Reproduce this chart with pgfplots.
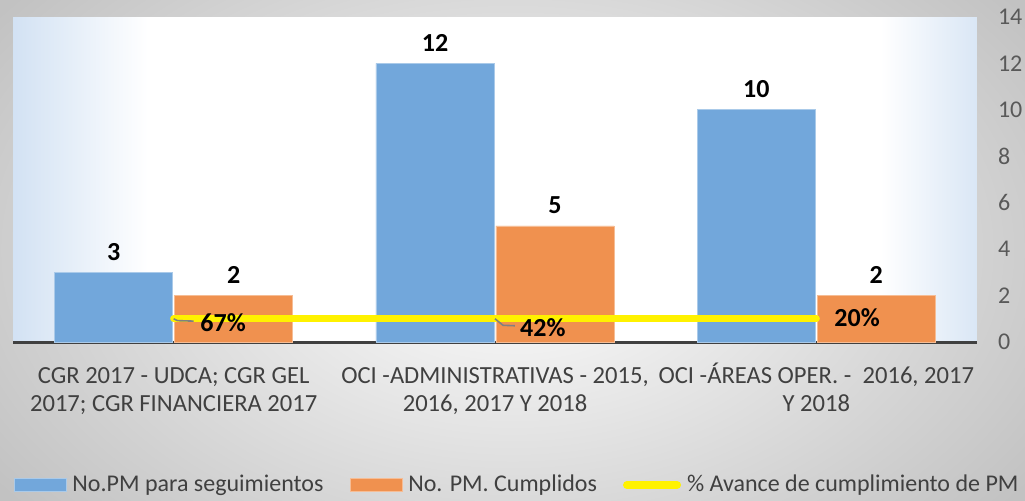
\documentclass[border=0pt]{standalone}
\usepackage{pgfplots}
\pgfplotsset{compat=1.18}
\usepackage{fontspec}
\setmainfont{Carlito}
\definecolor{barblue}{HTML}{72A7DB}
\definecolor{barorange}{HTML}{F0914F}
\definecolor{stripe}{HTML}{7FABDE}
\definecolor{lblgray}{HTML}{404040}
\definecolor{tickgray}{HTML}{595959}
\pgfdeclarehorizontalshading{plotbg}{100bp}{color(0bp)=(stripe); color(17bp)=(stripe!80!white); color(25bp)=(stripe!35!white); color(32bp)=(white); color(70bp)=(white); color(76bp)=(stripe!35!white); color(84bp)=(stripe!80!white); color(100bp)=(stripe)}
\begin{document}
\begin{tikzpicture}
\useasboundingbox (0,0) rectangle (512.5pt,250pt);
\shade[inner color=white, outer color=black!24] (-60pt,-80pt) rectangle (572.5pt,330pt);
\begin{axis}[
  at={(6.5pt,79pt)}, anchor=south west,
  scale only axis, width=482pt, height=162.5pt,
  axis background/.style={shading=plotbg},
  ybar, bar width=59pt,
  xmin=-0.5, xmax=2.5, ymin=0, ymax=14,
  xtick={0,1,2},
  xticklabels={{\vphantom{Á}CGR 2017 - UDCA; CGR GEL\\2017; CGR FINANCIERA 2017},{\vphantom{Á}OCI -ADMINISTRATIVAS - 2015,\\2016, 2017 Y 2018},{OCI -ÁREAS OPER. -\ \ 2016, 2017\\Y 2018}},
  xticklabel style={align=center, font=\fontsize{12.3}{14}\selectfont, text=lblgray, yshift=-7pt},
  ytick={0,2,...,14},
  yticklabel style={font=\fontsize{12}{14}\selectfont, text=tickgray, xshift=7pt},
  /pgf/number format/assume math mode=true,
  axis x line*=bottom, axis y line*=right,
  x axis line style={-, line width=1.5pt, draw=lblgray},
  y axis line style={draw=none},
  major tick length=0pt,
  nodes near coords,
  every node near coord/.append style={font=\fontsize{13}{15}\selectfont\bfseries, text=black, yshift=2.5pt},
  legend columns=3,
  legend style={at={(0.525,-0.44)}, anchor=center, draw=none, fill=none,
    font=\fontsize{12}{14}\selectfont, text=lblgray,
    nodes={inner sep=3pt},
    /tikz/every even column/.append style={column sep=10pt}},
  legend cell align=left,
  clip=false,
]
\addplot[fill=barblue, draw=barblue!60!white, line width=0.4pt, bar shift=-30pt,
  legend image code/.code={\draw[fill=barblue, draw=barblue!60!white] (0pt,-3.2pt) rectangle (26pt,3.2pt);}]
  coordinates {(0,3) (1,12) (2,10)};
\addlegendentry{No.PM para seguimientos}
\addplot[fill=barorange, draw=barorange!60!white, line width=0.4pt, bar shift=30pt,
  legend image code/.code={\draw[fill=barorange, draw=barorange!60!white] (0pt,-3.2pt) rectangle (26pt,3.2pt);}]
  coordinates {(0,2) (1,5) (2,2)};
\addlegendentry{No. PM. Cumplidos}
\addplot[sharp plot, draw=yellow, line width=3.5pt, line cap=round, nodes near coords={}, 
  legend image code/.code={\draw[yellow, line width=4pt, line cap=round] (2pt,0pt) -- (27pt,0pt);}]
  coordinates {(0,1) (1,1) (2,1)};
\addlegendentry{\% Avance de cumplimiento de PM}
\draw[gray, line width=0.8pt] (axis cs:0,1) -- (axis cs:0.012,0.92) -- (axis cs:0.062,0.9);
\draw[gray, line width=0.8pt] (axis cs:1,1) -- (axis cs:1.025,0.72) -- (axis cs:1.062,0.7);
\node[font=\fontsize{13}{15}\selectfont\bfseries] at (axis cs:0.154,0.82) {67\%};
\node[font=\fontsize{13}{15}\selectfont\bfseries] at (axis cs:1.149,0.6) {42\%};
\node[font=\fontsize{13}{15}\selectfont\bfseries] at (axis cs:2.127,1.03) {20\%};
\end{axis}
\end{tikzpicture}
\end{document}
